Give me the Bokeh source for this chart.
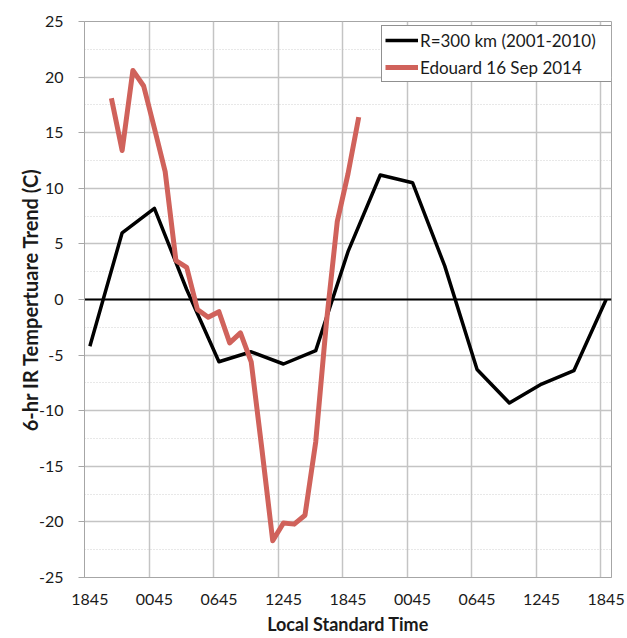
from bokeh.plotting import figure
from bokeh.models import (FixedTicker, Grid, Span, Range1d, Legend, LegendItem,
                          LinearAxis)
from bokeh.embed import file_html
from bokeh.resources import INLINE

# ---- data (hours after 1845 LST, category index) ----
black_hours = [0, 3, 6, 9, 12, 15, 18, 21, 24, 27, 30, 33, 36, 39, 42, 45, 48]
black_trend = [-4.2, 6.0, 8.2, 0.9, -5.6, -4.7, -5.8, -4.6, 4.3, 11.2, 10.5,
               3.0, -6.3, -9.3, -7.6, -6.4, 0.0]

red_hours = [2, 3, 4, 5, 6, 7, 8, 9, 10, 11, 12, 13, 14, 15, 16, 17, 18, 19,
             20, 21, 22, 23, 24, 25]
red_trend = [18.1, 13.4, 20.6, 19.2, 15.4, 11.5, 3.5, 2.9, -0.9, -1.6, -1.1,
             -3.9, -3.0, -5.6, -13.5, -21.7, -20.1, -20.2, -19.4, -12.8, -2.0,
             7.0, 11.3, 16.4]

tick_hours = [0, 6, 12, 18, 24, 30, 36, 42, 48]
tick_labels = ["1845", "0045", "0645", "1245", "1845", "0045", "0645", "1245", "1845"]
y_ticks = [-25, -20, -15, -10, -5, 0, 5, 10, 15, 20, 25]
y_minor = [-22.5, -17.5, -12.5, -7.5, -2.5, 2.5, 7.5, 12.5, 17.5, 22.5]

black_label = "R=300 km (2001-2010)"
red_label = "Edouard 16 Sep 2014"

FONT = "Lato"
GRID = "#c4c4c4"
AXIS = "#a6a6a6"
TXT = "#1a1a1a"

p = figure(width=627, height=638, output_backend="svg", toolbar_location=None,
           x_range=Range1d(-0.5, 48.5), y_range=Range1d(-25, 25),
           x_axis_location=None,
           min_border_left=84, min_border_right=16, min_border_top=21,
           min_border_bottom=61)
p.outline_line_color = AXIS
p.outline_line_width = 1
p.background_fill_color = "white"
p.border_fill_color = "white"

# category boundaries (vertical grid lines)
grid_x = [h - 0.5 for h in tick_hours]
for g in p.xgrid:
    g.visible = False
p.add_layout(Grid(dimension=0, ticker=FixedTicker(ticks=grid_x),
                  grid_line_color=GRID, grid_line_width=1.5))

# y grid
p.ygrid.ticker = FixedTicker(ticks=y_ticks, minor_ticks=y_minor)
p.ygrid.grid_line_color = GRID
p.ygrid.grid_line_width = 1.5
p.ygrid.minor_grid_line_color = "#d0d0d0"
p.ygrid.minor_grid_line_dash = "1 2"
p.ygrid.minor_grid_line_width = 1

# y axis
ya = p.yaxis[0]
ya.ticker = FixedTicker(ticks=y_ticks)
ya.major_label_overrides = {v: str(v) for v in y_ticks}
ya.major_tick_in = 0
ya.major_tick_out = 6
ya.minor_tick_line_color = None
ya.major_tick_line_color = AXIS
ya.axis_line_color = AXIS
ya.major_label_standoff = 15
ya.major_label_text_font = FONT
ya.major_label_text_font_size = "16px"
ya.major_label_text_color = TXT
ya.axis_label = "6-hr IR Tempertuare Trend (C)"
ya.axis_label_text_font = FONT
ya.axis_label_text_font_size = "20px"
ya.axis_label_text_font_style = "bold"
ya.axis_label_text_color = TXT
ya.axis_label_standoff = -6

# x axis: labels centred on categories
xa_lab = LinearAxis(ticker=FixedTicker(ticks=tick_hours),
                    major_label_overrides={h: l for h, l in zip(tick_hours, tick_labels)},
                    axis_line_color=AXIS, major_tick_line_color=None,
                    minor_tick_line_color=None, major_tick_in=0, major_tick_out=0,
                    major_label_standoff=16,
                    major_label_text_font=FONT, major_label_text_font_size="16px",
                    major_label_text_color=TXT,
                    axis_label="Local Standard Time", axis_label_text_font=FONT,
                    axis_label_text_font_size="18px", axis_label_text_font_style="bold",
                    axis_label_text_color=TXT, axis_label_standoff=5)
p.add_layout(xa_lab, "below")

# zero line
p.add_layout(Span(location=0, dimension="width", line_color="black",
                  line_width=2, level="underlay"))

rb = p.line(black_hours, black_trend, line_color="black", line_width=3.5,
            line_join="round")
rr = p.line(red_hours, red_trend, line_color="#d0625b", line_width=5,
            line_join="round")

legend = Legend(items=[LegendItem(label=black_label, renderers=[rb]),
                       LegendItem(label=red_label, renderers=[rr])],
                location=(297, 495), padding=3, spacing=5,
                glyph_width=33, glyph_height=22, label_height=22,
                label_width=189, label_standoff=2,
                border_line_color="#222222",
                border_line_width=1, background_fill_alpha=1,
                label_text_font=FONT, label_text_font_size="17px",
                label_text_color=TXT)
p.add_layout(legend)

open("out.html", "w").write(file_html(p, INLINE))
